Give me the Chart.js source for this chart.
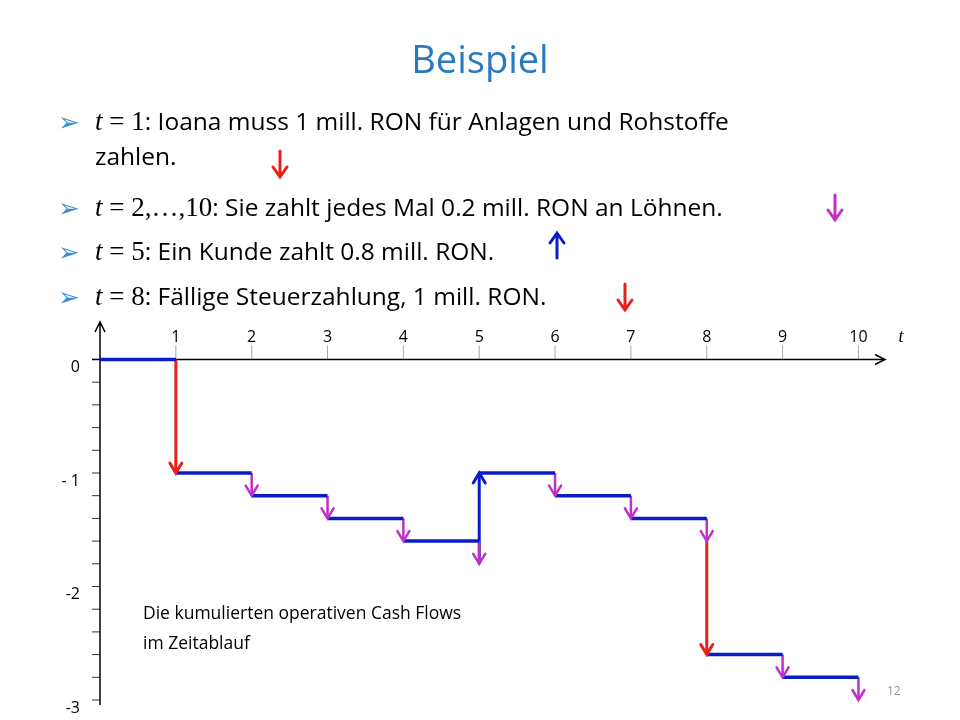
<!DOCTYPE html>
<html><head><meta charset="utf-8">
<script src="https://cdn.jsdelivr.net/npm/chart.js@4"></script>
<style>
body{margin:0;width:960px;height:720px;background:#fff;overflow:hidden;font-family:"Open Sans",sans-serif;}
#wrap{position:absolute;left:0;top:0;width:960px;height:720px;}
.t{position:absolute;white-space:nowrap;color:#000;}
.b{font-size:24.5px;}
.m{font-family:"Liberation Serif",serif;font-style:italic;font-size:27px;}
.n{font-family:"Liberation Serif",serif;font-size:27px;}
.bul{position:absolute;color:#3b8fd0;font-size:26px;left:58px;}
svg{position:absolute;overflow:visible;}
</style></head><body>
<div id="wrap"><canvas id="c" width="960" height="720"></canvas></div>
<div class="t" style="left:0;width:960px;text-align:center;top:32px;font-size:38px;color:#2a7ac0;">Beispiel</div>
<div class="bul" style="top:103px">➢</div>
<div class="t b" style="left:95px;top:104px"><span class="m">t</span><span class="n"> = 1</span>: Ioana muss 1 mill. RON für Anlagen und Rohstoffe</div>
<div class="t b" style="left:95px;top:139px">zahlen.</div>
<div class="bul" style="top:189px">➢</div>
<div class="t b" style="left:95px;top:190px"><span class="m">t</span><span class="n"> = 2,…,10</span>: Sie zahlt jedes Mal 0.2 mill. RON an Löhnen.</div>
<div class="bul" style="top:233px">➢</div>
<div class="t b" style="left:95px;top:234px"><span class="m">t</span><span class="n"> = 5</span>: Ein Kunde zahlt 0.8 mill. RON.</div>
<div class="bul" style="top:278px">➢</div>
<div class="t b" style="left:95px;top:279px"><span class="m">t</span><span class="n"> = 8</span>: Fällige Steuerzahlung, 1 mill. RON.</div>
<div class="t" style="left:143px;top:600px;font-size:17.5px">Die kumulierten operativen Cash Flows</div>
<div class="t" style="left:143px;top:630px;font-size:17.5px">im Zeitablauf</div>
<div class="t" style="left:887px;top:682px;font-size:12px;color:#999">12</div>
<svg width="960" height="720" style="left:0;top:0">
 <g stroke-width="3" fill="none" stroke-linecap="round">
  <path d="M280 151 V177 M273 167 L280 177 L287 167" stroke="#e8201c"/>
  <path d="M835 195 V220 M828 210 L835 220 L842 210" stroke="#c030c8"/>
  <path d="M557 258 V233 M550 243 L557 233 L564 243" stroke="#0a1cc8"/>
  <path d="M625 284 V310 M618 300 L625 310 L632 300" stroke="#e8201c"/>
 </g>
</svg>
<script>
const times = [1, 2, 3, 4, 5, 6, 7, 8, 9, 10];
const levels = [0, -1, -1.2, -1.4, -1.6, -1.0, -1.2, -1.4, -2.6, -2.8];
const arrowT    = [1,  2,   3,   4,   5,   5,   6,   7,   8,   8,   9,   10];
const arrowFrom = [0, -1, -1.2, -1.4, -1.6, -1.8, -1.0, -1.2, -1.4, -1.6, -2.6, -2.8];
const arrowTo   = [-1, -1.2, -1.4, -1.6, -1.8, -1.0, -1.2, -1.4, -1.6, -2.6, -2.8, -3.0];
const arrowKind = ['r','m','m','m','m','b','m','m','m','r','m','m'];
const yTicks = [0, -1, -2, -3];
const yTickLabels = ['0', '- 1', '-2', '-3'];

const colors = {r: '#e8201c', m: '#c030c8', b: '#0a1cc8'};
const segs = [];
levels.forEach((v, i) => { segs.push({x: i, y: v}, {x: i + 1, y: v}, {x: null, y: null}); });

const datasets = [{data: segs, borderColor: '#0a1cc8', borderWidth: 3.5, pointRadius: 0, showLine: true, spanGaps: false}];
arrowT.forEach((t, i) => {
  datasets.push({data: [{x: t, y: arrowFrom[i]}, {x: t, y: arrowTo[i]}], borderColor: colors[arrowKind[i]],
    borderWidth: arrowKind[i] === 'm' ? 2.5 : 3, pointRadius: 0, showLine: true, arrow: true});
});

const axesPlugin = {
  id: 'axes',
  beforeDatasetsDraw(chart) {
    const {ctx, scales: {x, y}} = chart;
    const x0 = x.getPixelForValue(0), y0 = y.getPixelForValue(0);
    const xr = x.getPixelForValue(x.max), yt = y.getPixelForValue(y.max), yb = y.getPixelForValue(y.min);
    ctx.save();
    ctx.strokeStyle = '#9ab'; ctx.lineWidth = 1;
    times.forEach(t => { const p = x.getPixelForValue(t); ctx.beginPath(); ctx.moveTo(p, y0); ctx.lineTo(p, y0 - 14); ctx.stroke(); });
    ctx.strokeStyle = '#333'; ctx.lineWidth = 1;
    for (let v = 0; v >= y.min - 1e-6; v -= 0.2) {
      const p = y.getPixelForValue(v); ctx.beginPath(); ctx.moveTo(x0 - 8, p); ctx.lineTo(x0, p); ctx.stroke();
    }
    ctx.strokeStyle = '#000'; ctx.lineWidth = 1.5;
    ctx.beginPath(); ctx.moveTo(x0, yb + 5); ctx.lineTo(x0, yt); ctx.moveTo(x0 - 5, yt + 10); ctx.lineTo(x0, yt); ctx.lineTo(x0 + 5, yt + 10);
    ctx.moveTo(x0 - 8, y0); ctx.lineTo(xr, y0); ctx.moveTo(xr - 10, y0 - 5); ctx.lineTo(xr, y0); ctx.lineTo(xr - 10, y0 + 5); ctx.stroke();
    ctx.fillStyle = '#000'; ctx.font = '16px "Open Sans", sans-serif'; ctx.textAlign = 'center'; ctx.textBaseline = 'middle';
    times.forEach(t => ctx.fillText(String(t), x.getPixelForValue(t), y0 - 22));
    ctx.font = 'italic 18px "Liberation Serif", serif'; ctx.fillText('t', xr + 16, y0 - 22);
    ctx.font = '16px "Open Sans", sans-serif'; ctx.textAlign = 'right';
    yTicks.forEach((v, i) => ctx.fillText(yTickLabels[i], x0 - 20, y.getPixelForValue(v) + 8));
    ctx.restore();
  },
  afterDatasetsDraw(chart) {
    const {ctx} = chart;
    chart.data.datasets.forEach((ds, i) => {
      if (!ds.arrow) return;
      const pts = chart.getDatasetMeta(i).data;
      const a = pts[0], b = pts[1];
      const dir = Math.sign(b.y - a.y);
      ctx.save(); ctx.strokeStyle = ds.borderColor; ctx.lineWidth = ds.borderWidth; ctx.lineCap = 'round';
      ctx.beginPath(); ctx.moveTo(b.x - 6, b.y - dir * 10); ctx.lineTo(b.x, b.y); ctx.lineTo(b.x + 6, b.y - dir * 10); ctx.stroke();
      ctx.restore();
    });
  }
};

new Chart(document.getElementById('c'), {
  type: 'scatter',
  data: {datasets},
  options: {
    responsive: false, animation: false,
    layout: {padding: {left: 100, right: 75, top: 322, bottom: 20}},
    plugins: {legend: {display: false}, tooltip: {enabled: false}},
    scales: {
      x: {type: 'linear', min: 0, max: 10.35, display: false},
      y: {type: 'linear', min: -3, max: 0.33, display: false}
    }
  },
  plugins: [axesPlugin]
});
</script>
</body></html>
